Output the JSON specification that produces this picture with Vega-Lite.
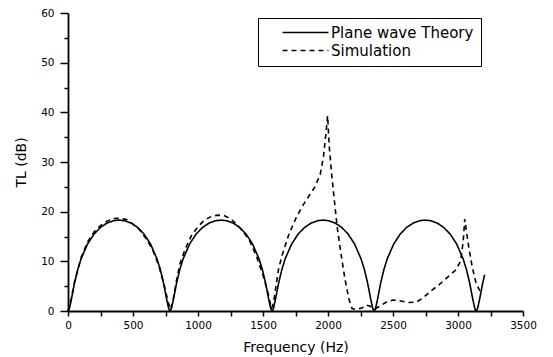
{
  "$schema": "https://vega.github.io/schema/vega-lite/v6.json",
  "autosize": "none",
  "padding": {"left": 68, "top": 13, "right": 30, "bottom": 46},
  "width": 455,
  "height": 298,
  "background": "white",
  "config": {
    "view": {"stroke": null},
    "font": "DejaVu Sans",
    "axis": {"domainColor": "black", "domainWidth": 1.8, "tickColor": "black", "tickWidth": 1.5, "labelColor": "black", "titleColor": "black", "labelFont": "DejaVu Sans", "titleFont": "DejaVu Sans", "labelFontSize": 10.5, "titleFontSize": 14, "titleFontWeight": "normal", "grid": false}
  },
  "data": {
    "values": [
      {"f": 0, "tl": 0, "series": "Plane wave Theory"},
      {"f": 10, "tl": 0.44, "series": "Plane wave Theory"},
      {"f": 25, "tl": 2.21, "series": "Plane wave Theory"},
      {"f": 50, "tl": 5.6, "series": "Plane wave Theory"},
      {"f": 75, "tl": 8.34, "series": "Plane wave Theory"},
      {"f": 100, "tl": 10.46, "series": "Plane wave Theory"},
      {"f": 150, "tl": 13.47, "series": "Plane wave Theory"},
      {"f": 200, "tl": 15.48, "series": "Plane wave Theory"},
      {"f": 250, "tl": 16.83, "series": "Plane wave Theory"},
      {"f": 300, "tl": 17.7, "series": "Plane wave Theory"},
      {"f": 350, "tl": 18.18, "series": "Plane wave Theory"},
      {"f": 392.5, "tl": 18.3, "series": "Plane wave Theory"},
      {"f": 435, "tl": 18.18, "series": "Plane wave Theory"},
      {"f": 485, "tl": 17.7, "series": "Plane wave Theory"},
      {"f": 535, "tl": 16.83, "series": "Plane wave Theory"},
      {"f": 585, "tl": 15.48, "series": "Plane wave Theory"},
      {"f": 635, "tl": 13.47, "series": "Plane wave Theory"},
      {"f": 685, "tl": 10.46, "series": "Plane wave Theory"},
      {"f": 710, "tl": 8.34, "series": "Plane wave Theory"},
      {"f": 735, "tl": 5.6, "series": "Plane wave Theory"},
      {"f": 760, "tl": 2.21, "series": "Plane wave Theory"},
      {"f": 775, "tl": 0.44, "series": "Plane wave Theory"},
      {"f": 785, "tl": 0, "series": "Plane wave Theory"},
      {"f": 795, "tl": 0.44, "series": "Plane wave Theory"},
      {"f": 810, "tl": 2.21, "series": "Plane wave Theory"},
      {"f": 835, "tl": 5.6, "series": "Plane wave Theory"},
      {"f": 860, "tl": 8.34, "series": "Plane wave Theory"},
      {"f": 885, "tl": 10.46, "series": "Plane wave Theory"},
      {"f": 935, "tl": 13.47, "series": "Plane wave Theory"},
      {"f": 985, "tl": 15.48, "series": "Plane wave Theory"},
      {"f": 1035, "tl": 16.83, "series": "Plane wave Theory"},
      {"f": 1085, "tl": 17.7, "series": "Plane wave Theory"},
      {"f": 1135, "tl": 18.18, "series": "Plane wave Theory"},
      {"f": 1177.5, "tl": 18.3, "series": "Plane wave Theory"},
      {"f": 1220, "tl": 18.18, "series": "Plane wave Theory"},
      {"f": 1270, "tl": 17.7, "series": "Plane wave Theory"},
      {"f": 1320, "tl": 16.83, "series": "Plane wave Theory"},
      {"f": 1370, "tl": 15.48, "series": "Plane wave Theory"},
      {"f": 1420, "tl": 13.47, "series": "Plane wave Theory"},
      {"f": 1470, "tl": 10.46, "series": "Plane wave Theory"},
      {"f": 1495, "tl": 8.34, "series": "Plane wave Theory"},
      {"f": 1520, "tl": 5.6, "series": "Plane wave Theory"},
      {"f": 1545, "tl": 2.21, "series": "Plane wave Theory"},
      {"f": 1560, "tl": 0.44, "series": "Plane wave Theory"},
      {"f": 1570, "tl": 0, "series": "Plane wave Theory"},
      {"f": 1580, "tl": 0.44, "series": "Plane wave Theory"},
      {"f": 1595, "tl": 2.21, "series": "Plane wave Theory"},
      {"f": 1620, "tl": 5.6, "series": "Plane wave Theory"},
      {"f": 1645, "tl": 8.34, "series": "Plane wave Theory"},
      {"f": 1670, "tl": 10.46, "series": "Plane wave Theory"},
      {"f": 1720, "tl": 13.47, "series": "Plane wave Theory"},
      {"f": 1770, "tl": 15.48, "series": "Plane wave Theory"},
      {"f": 1820, "tl": 16.83, "series": "Plane wave Theory"},
      {"f": 1870, "tl": 17.7, "series": "Plane wave Theory"},
      {"f": 1920, "tl": 18.18, "series": "Plane wave Theory"},
      {"f": 1962.5, "tl": 18.3, "series": "Plane wave Theory"},
      {"f": 2005, "tl": 18.18, "series": "Plane wave Theory"},
      {"f": 2055, "tl": 17.7, "series": "Plane wave Theory"},
      {"f": 2105, "tl": 16.83, "series": "Plane wave Theory"},
      {"f": 2155, "tl": 15.48, "series": "Plane wave Theory"},
      {"f": 2205, "tl": 13.47, "series": "Plane wave Theory"},
      {"f": 2255, "tl": 10.46, "series": "Plane wave Theory"},
      {"f": 2280, "tl": 8.34, "series": "Plane wave Theory"},
      {"f": 2305, "tl": 5.6, "series": "Plane wave Theory"},
      {"f": 2330, "tl": 2.21, "series": "Plane wave Theory"},
      {"f": 2345, "tl": 0.44, "series": "Plane wave Theory"},
      {"f": 2355, "tl": 0, "series": "Plane wave Theory"},
      {"f": 2365, "tl": 0.44, "series": "Plane wave Theory"},
      {"f": 2380, "tl": 2.21, "series": "Plane wave Theory"},
      {"f": 2405, "tl": 5.6, "series": "Plane wave Theory"},
      {"f": 2430, "tl": 8.34, "series": "Plane wave Theory"},
      {"f": 2455, "tl": 10.46, "series": "Plane wave Theory"},
      {"f": 2505, "tl": 13.47, "series": "Plane wave Theory"},
      {"f": 2555, "tl": 15.48, "series": "Plane wave Theory"},
      {"f": 2605, "tl": 16.83, "series": "Plane wave Theory"},
      {"f": 2655, "tl": 17.7, "series": "Plane wave Theory"},
      {"f": 2705, "tl": 18.18, "series": "Plane wave Theory"},
      {"f": 2747.5, "tl": 18.3, "series": "Plane wave Theory"},
      {"f": 2790, "tl": 18.18, "series": "Plane wave Theory"},
      {"f": 2840, "tl": 17.7, "series": "Plane wave Theory"},
      {"f": 2890, "tl": 16.83, "series": "Plane wave Theory"},
      {"f": 2940, "tl": 15.48, "series": "Plane wave Theory"},
      {"f": 2990, "tl": 13.47, "series": "Plane wave Theory"},
      {"f": 3040, "tl": 10.46, "series": "Plane wave Theory"},
      {"f": 3065, "tl": 8.34, "series": "Plane wave Theory"},
      {"f": 3090, "tl": 5.6, "series": "Plane wave Theory"},
      {"f": 3115, "tl": 2.21, "series": "Plane wave Theory"},
      {"f": 3130, "tl": 0.44, "series": "Plane wave Theory"},
      {"f": 3140, "tl": 0, "series": "Plane wave Theory"},
      {"f": 3150, "tl": 0.44, "series": "Plane wave Theory"},
      {"f": 3165, "tl": 2.21, "series": "Plane wave Theory"},
      {"f": 3190, "tl": 5.6, "series": "Plane wave Theory"},
      {"f": 3205, "tl": 7.3, "series": "Plane wave Theory"},
      {"f": 0, "tl": 0, "series": "Simulation"},
      {"f": 25, "tl": 2.5, "series": "Simulation"},
      {"f": 50, "tl": 5.8, "series": "Simulation"},
      {"f": 100, "tl": 10.7, "series": "Simulation"},
      {"f": 150, "tl": 13.9, "series": "Simulation"},
      {"f": 200, "tl": 15.9, "series": "Simulation"},
      {"f": 250, "tl": 17.2, "series": "Simulation"},
      {"f": 300, "tl": 18.1, "series": "Simulation"},
      {"f": 350, "tl": 18.6, "series": "Simulation"},
      {"f": 400, "tl": 18.7, "series": "Simulation"},
      {"f": 450, "tl": 18.4, "series": "Simulation"},
      {"f": 500, "tl": 17.5, "series": "Simulation"},
      {"f": 550, "tl": 16.4, "series": "Simulation"},
      {"f": 600, "tl": 14.6, "series": "Simulation"},
      {"f": 650, "tl": 12.4, "series": "Simulation"},
      {"f": 700, "tl": 9.0, "series": "Simulation"},
      {"f": 740, "tl": 5.2, "series": "Simulation"},
      {"f": 770, "tl": 1.8, "series": "Simulation"},
      {"f": 790, "tl": 0.3, "series": "Simulation"},
      {"f": 810, "tl": 2.5, "series": "Simulation"},
      {"f": 835, "tl": 6.2, "series": "Simulation"},
      {"f": 860, "tl": 9.4, "series": "Simulation"},
      {"f": 900, "tl": 12.4, "series": "Simulation"},
      {"f": 950, "tl": 15.2, "series": "Simulation"},
      {"f": 1000, "tl": 17.0, "series": "Simulation"},
      {"f": 1050, "tl": 18.3, "series": "Simulation"},
      {"f": 1100, "tl": 19.0, "series": "Simulation"},
      {"f": 1150, "tl": 19.3, "series": "Simulation"},
      {"f": 1200, "tl": 19.2, "series": "Simulation"},
      {"f": 1250, "tl": 18.6, "series": "Simulation"},
      {"f": 1300, "tl": 17.4, "series": "Simulation"},
      {"f": 1350, "tl": 15.9, "series": "Simulation"},
      {"f": 1400, "tl": 14.0, "series": "Simulation"},
      {"f": 1450, "tl": 11.0, "series": "Simulation"},
      {"f": 1500, "tl": 7.2, "series": "Simulation"},
      {"f": 1540, "tl": 3.5, "series": "Simulation"},
      {"f": 1565, "tl": 0.5, "series": "Simulation"},
      {"f": 1580, "tl": 1.5, "series": "Simulation"},
      {"f": 1600, "tl": 5.0, "series": "Simulation"},
      {"f": 1620, "tl": 8.5, "series": "Simulation"},
      {"f": 1650, "tl": 11.5, "series": "Simulation"},
      {"f": 1700, "tl": 15.5, "series": "Simulation"},
      {"f": 1750, "tl": 18.5, "series": "Simulation"},
      {"f": 1800, "tl": 21.0, "series": "Simulation"},
      {"f": 1850, "tl": 23.0, "series": "Simulation"},
      {"f": 1900, "tl": 25.0, "series": "Simulation"},
      {"f": 1940, "tl": 27.5, "series": "Simulation"},
      {"f": 1965, "tl": 31.0, "series": "Simulation"},
      {"f": 1985, "tl": 36.0, "series": "Simulation"},
      {"f": 1997, "tl": 39.3, "series": "Simulation"},
      {"f": 2010, "tl": 33.0, "series": "Simulation"},
      {"f": 2030, "tl": 27.0, "series": "Simulation"},
      {"f": 2050, "tl": 22.0, "series": "Simulation"},
      {"f": 2070, "tl": 17.0, "series": "Simulation"},
      {"f": 2100, "tl": 11.5, "series": "Simulation"},
      {"f": 2130, "tl": 6.5, "series": "Simulation"},
      {"f": 2160, "tl": 2.5, "series": "Simulation"},
      {"f": 2185, "tl": 0.5, "series": "Simulation"},
      {"f": 2220, "tl": 0.3, "series": "Simulation"},
      {"f": 2260, "tl": 0.6, "series": "Simulation"},
      {"f": 2290, "tl": 1.2, "series": "Simulation"},
      {"f": 2320, "tl": 1.0, "series": "Simulation"},
      {"f": 2360, "tl": 0.4, "series": "Simulation"},
      {"f": 2400, "tl": 1.0, "series": "Simulation"},
      {"f": 2450, "tl": 1.8, "series": "Simulation"},
      {"f": 2500, "tl": 2.2, "series": "Simulation"},
      {"f": 2560, "tl": 2.0, "series": "Simulation"},
      {"f": 2620, "tl": 1.7, "series": "Simulation"},
      {"f": 2680, "tl": 1.8, "series": "Simulation"},
      {"f": 2730, "tl": 2.6, "series": "Simulation"},
      {"f": 2780, "tl": 3.8, "series": "Simulation"},
      {"f": 2850, "tl": 5.2, "series": "Simulation"},
      {"f": 2920, "tl": 6.8, "series": "Simulation"},
      {"f": 2980, "tl": 8.2, "series": "Simulation"},
      {"f": 3020, "tl": 10.0, "series": "Simulation"},
      {"f": 3040, "tl": 14.0, "series": "Simulation"},
      {"f": 3052, "tl": 18.5, "series": "Simulation"},
      {"f": 3065, "tl": 16.0, "series": "Simulation"},
      {"f": 3085, "tl": 12.5, "series": "Simulation"},
      {"f": 3110, "tl": 8.8, "series": "Simulation"},
      {"f": 3140, "tl": 5.5, "series": "Simulation"},
      {"f": 3170, "tl": 4.0, "series": "Simulation"}
    ]
  },
  "mark": {"type": "line", "strokeWidth": 1.6, "strokeCap": "butt"},
  "encoding": {
    "x": {
      "field": "f", "type": "quantitative",
      "scale": {"domain": [0, 3500], "nice": false, "zero": false},
      "axis": {
        "title": "Frequency (Hz)",
        "values": [0, 250, 500, 750, 1000, 1250, 1500, 1750, 2000, 2250, 2500, 2750, 3000, 3250, 3500],
        "labelExpr": "datum.value % 500 === 0 ? datum.label : ''",
        "format": "d",
        "tickSize": 5,
        "labelPadding": 4,
        "titlePadding": 10,
        "labelFlush": false,
        "labelOverlap": false
      }
    },
    "y": {
      "field": "tl", "type": "quantitative",
      "scale": {"domain": [0, 60], "nice": false},
      "axis": {
        "title": "TL (dB)",
        "values": [0, 5, 10, 15, 20, 25, 30, 35, 40, 45, 50, 55, 60],
        "labelExpr": "datum.value % 10 === 0 ? datum.label : ''",
        "tickSize": {"condition": {"test": "datum.value % 10 === 0", "value": 8}, "value": 4},
        "labelPadding": 6,
        "titlePadding": 12,
        "labelFlush": false,
        "labelOverlap": false
      }
    },
    "color": {
      "field": "series", "type": "nominal",
      "scale": {"domain": ["Plane wave Theory", "Simulation"], "range": ["black", "black"]},
      "legend": {
        "title": null,
        "orient": "none",
        "legendX": 190,
        "legendY": 5,
        "strokeColor": "black",
        "fillColor": "white",
        "padding": 7,
        "symbolOffset": 33,
        "symbolType": "M-4,0H4",
        "symbolSize": 132,
        "symbolStrokeWidth": 1.6,
        "symbolFillColor": "transparent",
        "labelFont": "DejaVu Sans",
        "labelFontSize": 15,
        "labelColor": "black",
        "labelOffset": 18,
        "rowPadding": 2,
        "labelLimit": 300
      }
    },
    "strokeDash": {
      "field": "series", "type": "nominal",
      "scale": {"domain": ["Plane wave Theory", "Simulation"], "range": [[1, 0], [5, 4]]},
      "legend": null
    }
  }
}
